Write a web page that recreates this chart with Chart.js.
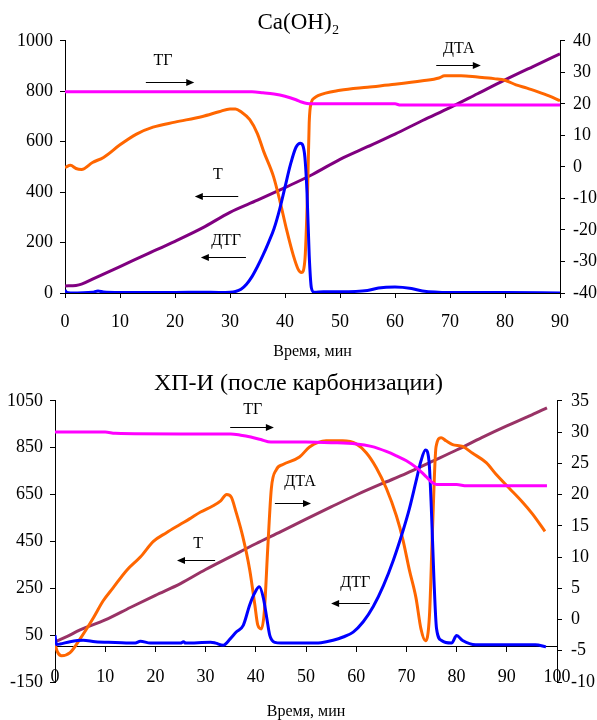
<!DOCTYPE html>
<html lang="ru">
<head>
<meta charset="UTF-8">
<title>Термический анализ</title>
<script src="https://cdn.jsdelivr.net/npm/chart.js"></script>
<style>
  body { margin: 0; background: #fff; }
  .wrap { width: 597px; height: 360px; }
</style>
</head>
<body>
<div class="wrap"><canvas id="chart1" width="597" height="360"></canvas></div>
<div class="wrap"><canvas id="chart2" width="597" height="360"></canvas></div>
<script>
// ---- Ca(OH)2 ----
const caXTicks = [0, 10, 20, 30, 40, 50, 60, 70, 80, 90];
const caLeftTicks = [0, 200, 400, 600, 800, 1000];
const caRightTicks = [-40, -30, -20, -10, 0, 10, 20, 30, 40];

const caTgTime = [0, 10, 20, 30, 34, 36, 38, 40, 42, 43, 44, 45, 50, 55, 60, 61, 70, 80, 90];
const caTg = [23.8, 23.8, 23.8, 23.8, 23.8, 23.5, 23.1, 22.4, 21.3, 20.6, 20.1, 20.0, 20.0, 20.0, 20.0, 19.6, 19.6, 19.6, 19.6];

const caDtaTime = [0, 1, 2, 3, 5, 7, 10, 13, 16, 20, 25, 28, 30, 31, 32, 33.6, 35, 36.1, 37.9, 39.1, 40.3, 41.5, 42.4, 43, 43.6, 44.1, 44.4, 44.8, 45.3, 46, 50, 55, 60, 65, 68, 69, 72, 75, 77, 78, 80, 82, 84, 86, 88, 90];
const caDta = [-0.2, 0.5, -0.5, -0.8, 1.4, 3, 7, 10.4, 12.6, 14.2, 16, 17.5, 18.4, 18.4, 17.5, 15, 10.5, 5, -3, -11, -20, -28, -32.5, -33.5, -30, -8, 14, 20.5, 21.8, 22.6, 24.3, 25.3, 26.2, 27.3, 28.2, 28.9, 28.9, 28.5, 28.2, 28.0, 27.5, 26.0, 25.0, 23.8, 22.5, 21.0];

const caTTime = [0, 2, 3, 5, 10, 15, 20, 25, 30, 35, 40, 45, 50, 55, 60, 65, 70, 75, 80, 85, 90];
const caT = [28, 30, 35, 55, 105, 155, 205, 258, 320, 368, 418, 470, 530, 580, 630, 684, 735, 790, 845, 897, 948];

const caDtgTime = [0, 0.3, 1, 5, 6, 7, 10, 20, 25, 28, 30, 31, 32, 33, 34, 35, 36, 37, 38, 39, 40, 41, 42, 42.8, 43.5, 44, 44.4, 44.8, 45.3, 47, 50, 55, 57, 60, 63, 65, 70, 80, 90];
const caDtg = [12, 2, 0, 3, 8, 4, 2, 2, 3, 2, 3, 6, 15, 35, 65, 105, 150, 200, 255, 330, 420, 510, 578, 594, 560, 400, 150, 20, 3, 5, 5, 10, 20, 24, 18, 8, 2, 2, 0];

// ---- ХП-И ----
const hpXTicks = [0, 10, 20, 30, 40, 50, 60, 70, 80, 90, 100];
const hpLeftTicks = [-150, 50, 250, 450, 650, 850, 1050];
const hpRightTicks = [-10, -5, 0, 5, 10, 15, 20, 25, 30, 35];

const hpTgTime = [0, 10, 12, 25, 35, 37, 39, 41, 43, 50, 55, 60, 63, 66, 68, 70, 72, 73, 74, 75, 76, 80, 82, 98];
const hpTg = [30, 30, 29.8, 29.7, 29.7, 29.5, 29.2, 28.8, 28.4, 28.4, 28.3, 28.1, 27.7, 26.9, 26.2, 25.4, 24.3, 23.6, 22.8, 22.0, 21.6, 21.6, 21.4, 21.4];

const hpDtaTime = [0, 0.5, 1.3, 3, 5, 7.6, 9.6, 11.6, 14.3, 17, 19.6, 22.2, 24.9, 26.8, 29, 31.5, 33, 34.2, 35.1, 36.1, 37.4, 38.8, 39.8, 40.4, 41.1, 41.7, 42.4, 43.1, 44.1, 45.4, 48.7, 50.7, 54, 57.3, 60, 62, 64, 66, 68, 69.3, 70.6, 71.9, 72.9, 73.8, 74.6, 75.2, 75.9, 76.9, 77.9, 79.2, 81.2, 83.2, 85.9, 87.9, 90.5, 93.1, 95.1, 97.6];
const hpDta = [-3.9, -5.2, -5.8, -5.3, -3.1, 0.2, 3.0, 5.1, 7.9, 10.0, 12.5, 13.9, 15.2, 16.1, 17.2, 18.2, 19.0, 20.0, 19.6, 17.1, 13.3, 7.9, 2.4, -0.9, -1.5, 1.3, 11.7, 21.0, 24.0, 24.8, 26.0, 27.6, 28.6, 28.6, 28.1, 26.7, 24.3, 21.0, 16.6, 12.8, 7.9, 3.5, -1.5, -3.4, 0.7, 14.4, 27.6, 29.1, 28.6, 28.0, 27.7, 26.6, 25.1, 23.2, 21.0, 18.8, 16.9, 14.1];

const hpTTime = [0, 2, 5, 10, 15, 20, 25, 30, 35, 40, 45, 50, 55, 60, 65, 70, 75, 80, 85, 90, 95, 98];
const hpT = [22, 40, 72, 115, 168, 220, 270, 330, 385, 440, 492, 545, 597, 648, 695, 740, 790, 840, 893, 943, 990, 1020];

const hpDtgTime = [0, 0.3, 1, 3, 5.6, 8, 12, 16, 17, 19, 25, 25.6, 26, 31, 32, 33.5, 34.9, 36.1, 37.5, 38.8, 39.8, 40.7, 41.5, 42.2, 42.8, 43.8, 45, 50, 53, 55.4, 57.4, 59.4, 61.4, 63.4, 65.4, 67.4, 69.4, 70.6, 71.9, 72.9, 73.8, 74.5, 75, 75.5, 76, 77, 79, 80, 81.2, 83.8, 95.7, 97.8];
const hpDtg = [50, 10, 12, 22, 28, 22, 19, 16, 24, 16, 16, 22, 16, 20, 16, 7, 34, 63, 92, 180, 231, 256, 209, 121, 48, 19, 16, 16, 18, 28, 42, 63, 107, 172, 260, 370, 501, 590, 705, 793, 840, 793, 574, 282, 78, 27, 16, 48, 27, 9, 9, 0];

// подписи со стрелками (в единицах осей: мин / левая ось)
const caNotes = [
  { text: 'ТГ', tx: 17.8, ty: 920, from: 14.7, to: 23.5, ay: 837 },
  { text: 'Т', tx: 27.8, ty: 470, from: 31.5, to: 23.6, ay: 386 },
  { text: 'ДТГ', tx: 29.3, ty: 207, from: 32.9, to: 24.7, ay: 143 },
  { text: 'ДТА', tx: 71.6, ty: 968, from: 67.5, to: 75.6, ay: 904 }
];
const hpNotes = [
  { text: 'ТГ', tx: 39.4, ty: 1011, from: 34.9, to: 43.6, ay: 940 },
  { text: 'Т', tx: 28.5, ty: 441, from: 31.9, to: 24.3, ay: 371 },
  { text: 'ДТА', tx: 48.8, ty: 704, from: 43.8, to: 51, ay: 616 },
  { text: 'ДТГ', tx: 59.8, ty: 275, from: 62.7, to: 55, ay: 187 }
];

Chart.defaults.font.family = "'Liberation Serif', 'Times New Roman', serif";
Chart.defaults.color = '#000';

const arrowLabels = {
  id: 'arrowLabels',
  afterDatasetsDraw(chart, args, opts) {
    const ctx = chart.ctx, xs = chart.scales.x, ys = chart.scales.y;
    ctx.save();
    ctx.font = '16px "Liberation Serif"';
    ctx.textAlign = 'center';
    ctx.textBaseline = 'middle';
    ctx.fillStyle = '#000';
    ctx.strokeStyle = '#000';
    ctx.lineWidth = 1;
    (opts.items || []).forEach(a => {
      ctx.fillText(a.text, xs.getPixelForValue(a.tx), ys.getPixelForValue(a.ty));
      const x1 = xs.getPixelForValue(a.from), x2 = xs.getPixelForValue(a.to);
      const y = Math.round(ys.getPixelForValue(a.ay)) + 0.5;
      const dir = Math.sign(x2 - x1);
      ctx.beginPath();
      ctx.moveTo(x1, y);
      ctx.lineTo(x2 - dir * 6, y);
      ctx.stroke();
      ctx.beginPath();
      ctx.moveTo(x2, y);
      ctx.lineTo(x2 - dir * 8, y - 3.5);
      ctx.lineTo(x2 - dir * 8, y + 3.5);
      ctx.closePath();
      ctx.fill();
    });
    ctx.restore();
  }
};

function series(label, times, values, color, axis) {
  return {
    label: label,
    data: times.map((t, i) => ({ x: t, y: values[i] })),
    borderColor: color,
    borderWidth: 3,
    pointRadius: 0,
    cubicInterpolationMode: 'monotone',
    fill: false,
    yAxisID: axis
  };
}

function axis(ticksList, extra) {
  return Object.assign({
    type: 'linear',
    border: { display: true, color: '#000', width: 1 },
    grid: { drawOnChartArea: false, drawTicks: true, tickLength: 5, color: '#000' },
    afterBuildTicks: s => { s.ticks = ticksList.map(v => ({ value: v })); },
    ticks: { font: { size: 18 }, color: '#000', autoSkip: false, maxRotation: 0, callback: v => String(v) }
  }, extra);
}

function baseOptions(title, titleSize, titlePad, notes) {
  return {
    responsive: false,
    animation: false,
    devicePixelRatio: 1,
    layout: { padding: 0 },
    plugins: {
      legend: { display: false },
      tooltip: { enabled: false },
      title: { display: true, text: title, color: '#000', font: { size: titleSize, weight: 'normal' }, padding: titlePad },
      arrowLabels: { items: notes }
    }
  };
}

// график 1
const opt1 = baseOptions('Ca(OH)₂', 23, { top: 9.6, bottom: 3.6 }, caNotes);
opt1.scales = {
  x: axis(caXTicks, {
    position: 'bottom', min: 0, max: 90,
    afterFit: s => { s.height = 67; },
    title: { display: true, text: 'Время, мин', color: '#000', font: { size: 16, lineHeight: 1 }, padding: 0 }
  }),
  y: axis(caLeftTicks, { position: 'left', min: 0, max: 1000, afterFit: s => { s.width = 65; } }),
  y1: axis(caRightTicks, { position: 'right', min: -40, max: 40, afterFit: s => { s.width = 37; } })
};
opt1.scales.x.ticks.padding = 13;
opt1.scales.y.ticks.padding = 7;
opt1.scales.y1.ticks.padding = 8;

new Chart(document.getElementById('chart1'), {
  type: 'line',
  data: { datasets: [
    series('ТГ', caTgTime, caTg, '#ff00ff', 'y1'),
    series('ДТГ', caDtgTime, caDtg, '#0000ff', 'y'),
    series('ДТА', caDtaTime, caDta, '#ff6600', 'y1'),
    series('Т', caTTime, caT, '#800080', 'y')
  ]},
  options: opt1,
  plugins: [arrowLabels]
});

// график 2
const opt2 = baseOptions('ХП-И (после карбонизации)', 24, { top: 9, bottom: 3 }, hpNotes);
opt2.scales = {
  x: axis(hpXTicks, { axis: 'x', position: { y: 0 }, min: 0, max: 100 }),
  x2: {
    type: 'linear', position: 'bottom', min: 0, max: 100,
    ticks: { display: false }, grid: { display: false }, border: { display: false },
    afterFit: s => { s.height = 38; },
    title: { display: true, text: 'Время, мин', color: '#000', font: { size: 16, lineHeight: 1 }, padding: 0 }
  },
  y: axis(hpLeftTicks, { position: 'left', min: -150, max: 1050, afterFit: s => { s.width = 55; } }),
  y1: axis(hpRightTicks, { position: 'right', min: -10, max: 35, afterFit: s => { s.width = 40; } })
};
opt2.scales.x.ticks.padding = 15;
opt2.scales.y.ticks.padding = 7;
opt2.scales.y1.ticks.padding = 9;

new Chart(document.getElementById('chart2'), {
  type: 'line',
  data: { datasets: [
    series('ТГ', hpTgTime, hpTg, '#ff00ff', 'y1'),
    series('ДТГ', hpDtgTime, hpDtg, '#0000ff', 'y'),
    series('ДТА', hpDtaTime, hpDta, '#ff6600', 'y1'),
    series('Т', hpTTime, hpT, '#993366', 'y')
  ]},
  options: opt2,
  plugins: [arrowLabels]
});
</script>
</body>
</html>
